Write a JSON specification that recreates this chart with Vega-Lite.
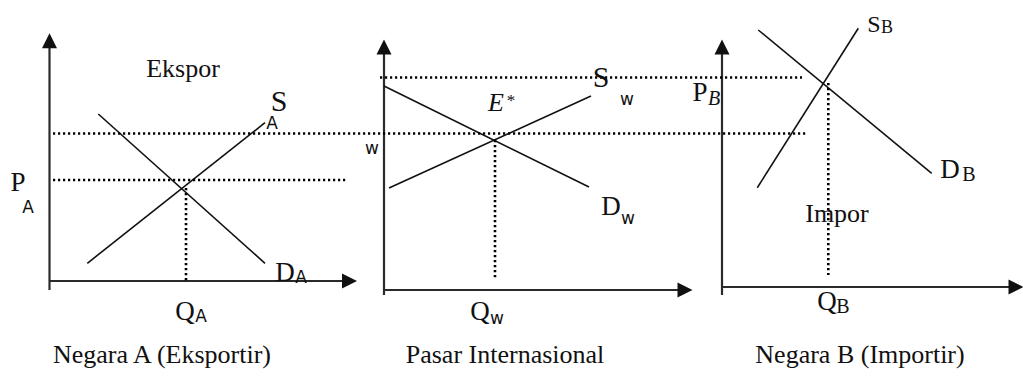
{
  "$schema": "https://vega.github.io/schema/vega-lite/v6.json",
  "width": 1023,
  "height": 376,
  "padding": 0,
  "autosize": {"type": "none"},
  "background": "white",
  "config": {"view": {"stroke": null}},
  "datasets": {
    "axes": [
      {"x": 49.5, "y": 290, "x2": 49.5, "y2": 42},
      {"x": 49, "y": 281, "x2": 350, "y2": 281},
      {"x": 384, "y": 295, "x2": 384, "y2": 48},
      {"x": 384, "y": 290, "x2": 686, "y2": 290},
      {"x": 722, "y": 295, "x2": 722, "y2": 48},
      {"x": 722, "y": 287, "x2": 1016, "y2": 287}
    ],
    "curves": [
      {"name": "D_A", "x": 98.3, "y": 114, "x2": 265, "y2": 263.3},
      {"name": "S_A", "x": 87.3, "y": 263.3, "x2": 265, "y2": 122.7},
      {"name": "D_w", "x": 384, "y": 86, "x2": 589, "y2": 187},
      {"name": "S_w", "x": 389, "y": 188, "x2": 591, "y2": 96},
      {"name": "D_B", "x": 758.3, "y": 30, "x2": 931.7, "y2": 173.3},
      {"name": "S_B", "x": 757.3, "y": 187.7, "x2": 858.3, "y2": 28.3}
    ],
    "dotted": [
      {"x": 53, "y": 133.5, "x2": 808, "y2": 133.5},
      {"x": 53, "y": 180, "x2": 347, "y2": 180},
      {"x": 186, "y": 188, "x2": 186, "y2": 281},
      {"x": 380, "y": 77.5, "x2": 802, "y2": 77.5},
      {"x": 495, "y": 140, "x2": 495, "y2": 280},
      {"x": 828.3, "y": 83, "x2": 828.3, "y2": 275}
    ],
    "arrowsUp": [
      {"x": 49.5, "y": 40.8},
      {"x": 384, "y": 47},
      {"x": 722, "y": 47}
    ],
    "arrowsRight": [
      {"x": 349.5, "y": 281},
      {"x": 685, "y": 290},
      {"x": 1016, "y": 287}
    ],
    "titles": [
      {"x": 162, "y": 355, "t": "Negara A (Eksportir)"},
      {"x": 505, "y": 355, "t": "Pasar Internasional"},
      {"x": 860, "y": 355, "t": "Negara B (Importir)"},
      {"x": 183, "y": 68.5, "t": "Ekspor"},
      {"x": 837, "y": 213.5, "t": "Impor"}
    ],
    "big": [
      {"x": 18, "y": 182.5, "t": "P"},
      {"x": 185, "y": 312, "t": "Q"},
      {"x": 285, "y": 273, "t": "D"},
      {"x": 480, "y": 312, "t": "Q"},
      {"x": 611, "y": 207, "t": "D"},
      {"x": 827, "y": 302, "t": "Q"},
      {"x": 950, "y": 170, "t": "D"},
      {"x": 700, "y": 93, "t": "P"}
    ],
    "bigS": [
      {"x": 279, "y": 102, "t": "S"},
      {"x": 601, "y": 78, "t": "S"}
    ],
    "mid": [
      {"x": 874, "y": 25, "t": "S"}
    ],
    "italicE": [
      {"x": 496, "y": 103, "t": "E"}
    ],
    "star": [
      {"x": 511, "y": 101, "t": "*"}
    ],
    "sansSub": [
      {"x": 272, "y": 124, "t": "A"},
      {"x": 28, "y": 208, "t": "A"},
      {"x": 301, "y": 278, "t": "A"},
      {"x": 201, "y": 317, "t": "A"},
      {"x": 627, "y": 100, "t": "w"},
      {"x": 372, "y": 149, "t": "w"},
      {"x": 628, "y": 219, "t": "w"},
      {"x": 497, "y": 319, "t": "w"}
    ],
    "serifSub": [
      {"x": 969, "y": 175, "t": "B"},
      {"x": 843, "y": 307, "t": "B"}
    ],
    "smallSub": [
      {"x": 887, "y": 28, "t": "B"}
    ],
    "italicSub": [
      {"x": 714, "y": 99, "t": "B"}
    ]
  },
  "encoding": {
    "x": {"field": "x", "type": "quantitative", "axis": null, "scale": {"domain": [0, 1023], "nice": false, "zero": false}},
    "y": {"field": "y", "type": "quantitative", "axis": null, "scale": {"domain": [0, 376], "reverse": true, "nice": false, "zero": false}}
  },
  "layer": [
    {
      "data": {"name": "axes"},
      "mark": {"type": "rule", "strokeWidth": 2.2, "color": "#2a2a2a"},
      "encoding": {"x2": {"field": "x2"}, "y2": {"field": "y2"}}
    },
    {
      "data": {"name": "curves"},
      "mark": {"type": "rule", "strokeWidth": 1.6, "color": "#111"},
      "encoding": {"x2": {"field": "x2"}, "y2": {"field": "y2"}}
    },
    {
      "data": {"name": "dotted"},
      "mark": {"type": "rule", "strokeWidth": 2.6, "strokeDash": [2.2, 2.8], "color": "#000"},
      "encoding": {"x2": {"field": "x2"}, "y2": {"field": "y2"}}
    },
    {
      "data": {"name": "arrowsUp"},
      "mark": {"type": "point", "shape": "M0,-1L1,1L-1,1Z", "filled": true, "size": 225, "opacity": 1, "color": "#111"}
    },
    {
      "data": {"name": "arrowsRight"},
      "mark": {"type": "point", "shape": "M1,0L-1,-1L-1,1Z", "filled": true, "size": 225, "opacity": 1, "color": "#111"}
    },
    {
      "data": {"name": "titles"},
      "mark": {"type": "text", "font": "Liberation Serif", "fontSize": 26, "align": "center", "baseline": "middle", "color": "#111"},
      "encoding": {"text": {"field": "t"}}
    },
    {
      "data": {"name": "big"},
      "mark": {"type": "text", "font": "Liberation Serif", "fontSize": 27, "align": "center", "baseline": "middle", "color": "#111"},
      "encoding": {"text": {"field": "t"}}
    },
    {
      "data": {"name": "bigS"},
      "mark": {"type": "text", "font": "Liberation Serif", "fontSize": 30, "align": "center", "baseline": "middle", "color": "#111"},
      "encoding": {"text": {"field": "t"}}
    },
    {
      "data": {"name": "mid"},
      "mark": {"type": "text", "font": "Liberation Serif", "fontSize": 24, "align": "center", "baseline": "middle", "color": "#111"},
      "encoding": {"text": {"field": "t"}}
    },
    {
      "data": {"name": "italicE"},
      "mark": {"type": "text", "font": "Liberation Serif", "fontStyle": "italic", "fontSize": 26, "align": "center", "baseline": "middle", "color": "#111"},
      "encoding": {"text": {"field": "t"}}
    },
    {
      "data": {"name": "star"},
      "mark": {"type": "text", "font": "Liberation Serif", "fontSize": 17, "align": "center", "baseline": "middle", "color": "#111"},
      "encoding": {"text": {"field": "t"}}
    },
    {
      "data": {"name": "sansSub"},
      "mark": {"type": "text", "font": "DejaVu Sans", "fontSize": 17, "align": "center", "baseline": "middle", "color": "#111"},
      "encoding": {"text": {"field": "t"}}
    },
    {
      "data": {"name": "serifSub"},
      "mark": {"type": "text", "font": "Liberation Serif", "fontSize": 20, "align": "center", "baseline": "middle", "color": "#111"},
      "encoding": {"text": {"field": "t"}}
    },
    {
      "data": {"name": "smallSub"},
      "mark": {"type": "text", "font": "Liberation Serif", "fontSize": 18, "align": "center", "baseline": "middle", "color": "#111"},
      "encoding": {"text": {"field": "t"}}
    },
    {
      "data": {"name": "italicSub"},
      "mark": {"type": "text", "font": "Liberation Serif", "fontStyle": "italic", "fontSize": 20, "align": "center", "baseline": "middle", "color": "#111"},
      "encoding": {"text": {"field": "t"}}
    }
  ]
}
